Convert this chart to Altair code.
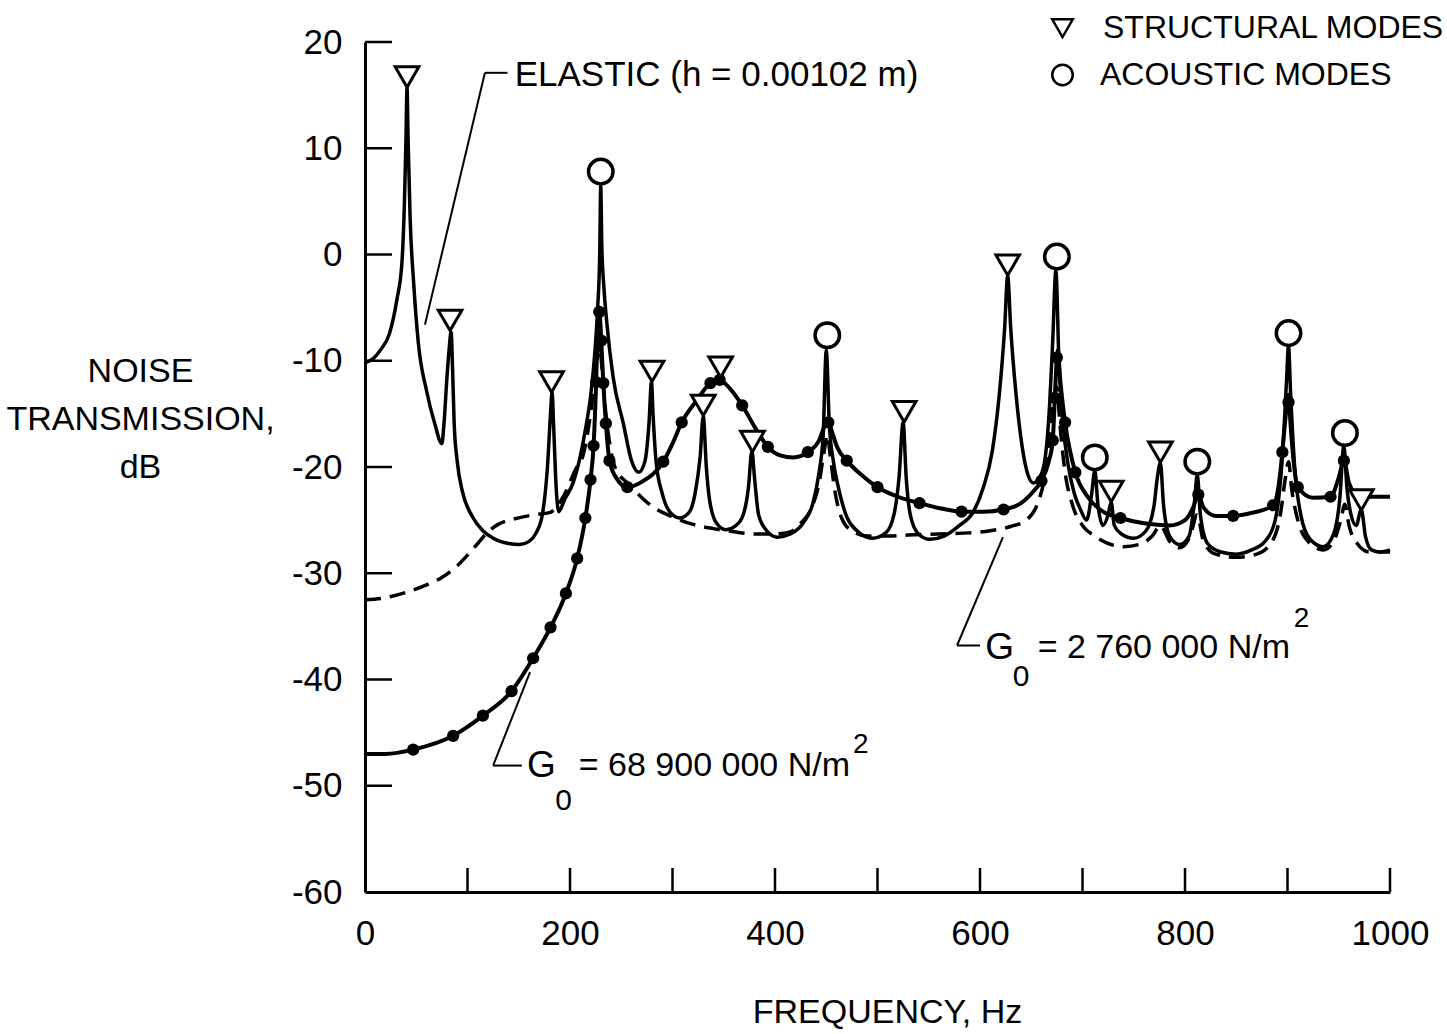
import altair as alt
import pandas as pd

FONT = "Liberation Sans, Arial, sans-serif"

# ---------------- data ----------------
# Elastic plate (h = 0.00102 m) – solid line
elastic_f = [0, 8, 15, 24, 31, 36, 38.5, 40, 41, 42, 44, 47.5, 52, 60, 68, 75, 77, 80, 82, 84,
             85.5, 87, 90, 95, 105, 115, 125, 140, 151, 160, 167, 173, 178, 181, 182.5, 184, 186, 189,
             195, 203, 210, 215, 220, 224, 227, 229, 230, 231, 233, 236, 242, 252, 260, 267, 273, 277,
             279.5, 281, 284, 290, 298, 307, 316, 322, 327, 330, 333, 336, 343, 352, 362, 369, 374,
             377.5, 380, 384, 392, 402, 415, 428, 437, 443, 447, 450, 453, 457, 462, 470, 480, 495,
             508, 516, 521, 525, 528, 532, 540, 551, 565, 580, 593, 603, 612, 619, 624, 627, 630, 635,
             641, 647, 652, 658, 663, 668, 671, 674, 677, 681, 686, 692, 698, 704, 709, 712, 715, 720,
             725, 728, 731, 738, 750, 762, 770, 773, 776, 779, 785, 795, 804, 809, 812, 815, 822, 835,
             850, 865, 878, 888, 895, 899, 901, 903, 907, 913, 922, 935, 945, 951, 955, 958, 962, 967,
             972, 976, 982, 990, 1000]
elastic_db = [-10.2, -9.8, -9.0, -7.4, -4.3, -0.8, 5, 11, 15.7, 11, 3.5, -2.7, -8.3, -12.8, -15.9, -17.8, -16, -11.5, -9, -7.3,
              -11, -15.9, -19.5, -22.3, -24.7, -26, -26.7, -27.2, -27.3, -27, -26.2, -24.5, -20, -15, -13, -16, -21, -24.2,
              -23, -21.5, -19, -16.5, -13.4, -9.5, -5, 0, 6.5, 1, -3, -6.5, -11.5, -15.9, -19.4, -20.5, -19.5, -16,
              -12, -15, -19.5, -22.5, -24.3, -24.8, -24.3, -22.5, -19, -15.2, -20, -23, -25.3, -25.9, -25.5, -24.5, -22,
              -18.5, -21, -24.5, -26, -26.6, -26.3, -25.2, -23.4, -20.5, -17, -9, -16, -19.5, -22, -24.7, -26, -26.7,
              -26.2, -24.5, -21, -15.8, -21, -24.5, -26.3, -26.8, -26.5, -25.5, -24.3, -22, -18.5, -13, -7, -2, -7, -13,
              -18, -20.8, -21.5, -21, -19.5, -14, -8, -1.5, -10, -16, -19.8, -22.5, -24, -25, -22.5, -20.3, -23.5, -25.5,
              -24.5, -23.3, -25.5, -26.3, -26.7, -26, -23.5, -21, -19.6, -23.5, -26.5, -27.3, -26.5, -23.5, -20.7, -24.5, -27.2, -28,
              -28.2, -27.8, -27, -25, -19, -12, -8.6, -13, -20, -24.5, -26.8, -27.5, -26.3, -23, -18, -22, -24.5, -25.5,
              -24, -26.5, -27.8, -28, -27.8]

# G0 = 2 760 000 N/m^2 – dashed line
soft_f = [0, 20, 40, 60, 75, 90, 100, 110, 120, 130, 145, 165, 180, 195, 205, 213, 220, 225, 229, 231,
          235, 240, 245, 255, 265, 280, 300, 320, 340, 360, 380, 400, 415, 425, 435, 443, 448, 451, 454,
          458, 465, 475, 490, 510, 530, 560, 590, 610, 630, 645, 655, 663, 668, 672, 675, 678, 683, 690,
          700, 712, 725, 740, 755, 768, 776, 785, 795, 805, 812, 818, 830, 850, 870, 885, 893, 898, 901,
          904, 910, 920, 935, 945, 952, 956, 960, 968, 980, 1000]
soft_db = [-32.5, -32.3, -31.8, -31.1, -30.4, -29.3, -28.3, -27.2, -26.1, -25.4, -24.9, -24.5, -24.3, -22.5, -20.3, -18.8, -15, -11, -8.5, -10.5,
           -15, -18.5, -20.3, -21.4, -22.4, -23.7, -24.7, -25.4, -25.8, -26.1, -26.3, -26.3, -26.1, -25.3, -24, -21.5, -18.5, -17, -19,
           -22, -24.8, -26, -26.5, -26.5, -26.4, -26.3, -26.2, -26, -25.6, -25, -23.7, -21, -17.5, -13.5, -12.5, -16, -20.5, -23.5,
           -25.5, -26.5, -27.2, -27.5, -27.3, -26.5, -25.5, -27, -27.6, -26.5, -24.5, -27, -28.2, -28.5, -28.2, -27, -24.5, -21, -19.5,
           -22, -25, -27, -27.8, -27, -25, -23.5, -25.5, -27.2, -28, -28]

# G0 = 68 900 000 N/m^2 – solid line with dots
stiff_f = [0, 20, 47, 86, 115, 143, 164, 181, 196, 207, 215, 220, 223, 225.5, 227, 228.5, 230.5, 232.5, 235, 238.5,
           245, 256, 270, 291, 300, 309, 323, 337, 346, 355, 368, 380, 393, 405, 418, 432, 443, 449, 452, 455,
           461, 470, 485, 500, 520, 541, 562, 582, 603, 623, 640, 652, 660, 667, 671, 673, 675, 676, 678, 683,
           693, 705, 720, 737, 760, 785, 800, 808, 813, 818, 830, 847, 866, 886, 893, 896, 899, 901, 903, 906,
           910, 925, 942, 950, 955, 960, 970, 985, 1000]
stiff_db = [-47, -47, -46.6, -45.3, -43.4, -41.1, -38.0, -35.1, -31.9, -28.6, -24.8, -21.2, -18, -12, -7, -5.2, -8.1, -12.1, -15.9, -19.4,
            -21, -21.9, -21.4, -19.5, -17.8, -15.8, -13.8, -12.1, -11.8, -12.5, -14.2, -16.2, -18.1, -18.9, -19.1, -18.6, -17.5, -16, -15.5, -16.5,
            -18.2, -19.4, -20.8, -21.9, -22.8, -23.4, -23.9, -24.2, -24.2, -24.0, -23.4, -22.3, -21.3, -19.5, -17.5, -13.5, -9.7, -9, -11.5, -15.8,
            -20.5, -22.8, -24.2, -24.8, -25.3, -25.5, -25, -23.8, -22.6, -23.8, -24.6, -24.6, -24.3, -23.6, -20.5, -17.5, -14.5, -13.2, -16, -19.5,
            -21.9, -22.9, -22.8, -21, -19.4, -21.5, -22.8, -22.8, -22.8]

# plotted (measured) points on the stiff-core curve
dot_f = [47, 86, 115, 143, 164, 181, 196, 207, 215, 220, 223, 225.5, 228.5, 230.5, 232.5, 235, 238.5, 256,
         291, 309, 337, 346, 368, 393, 432, 452, 470, 500, 541, 582, 623, 660, 671, 673, 675, 683, 693, 737,
         813, 847, 886, 895, 901, 910, 942, 955]
dot_db = [-46.6, -45.3, -43.4, -41.1, -38.0, -35.1, -31.9, -28.6, -24.8, -21.2, -18, -12, -5.4, -8.1, -12.1, -15.9, -19.4, -21.9,
          -19.5, -15.8, -12.1, -11.8, -14.2, -18.1, -18.6, -15.8, -19.4, -21.9, -23.4, -24.2, -24.0, -21.3, -17.5, -13.5, -9.7, -15.8, -20.5, -24.8,
          -22.6, -24.6, -23.6, -18.6, -13.9, -21.9, -22.8, -19.4]

# mode markers
struct_f = [41, 83, 182, 280, 330, 347, 378, 526, 627, 728, 776, 972]
struct_db = [16.7, -6.2, -12, -11.0, -14.2, -10.6, -17.6, -14.8, -1.0, -22.3, -18.6, -23.1]
acoustic_f = [230, 451, 675, 712, 812, 901, 956]
acoustic_db = [7.8, -7.6, -0.2, -19.1, -19.5, -7.4, -16.8]

# axis ticks
x_tick_values = [100, 200, 300, 400, 500, 600, 700, 800, 900, 1000]
x_label_values = [0, 200, 400, 600, 800, 1000]
y_tick_values = [-50, -40, -30, -20, -10, 0, 10, 20]
y_label_values = [-60, -50, -40, -30, -20, -10, 0, 10, 20]

# leader lines (start f, start dB, end f, end dB)
leader_f = [117, 117, 125, 125, 577.6, 577.6]
leader_db = [17.1, 17.1, -48.1, -48.1, -36.8, -36.8]
leader_f2 = [139, 58.5, 153, 161, 600, 622.4]
leader_db2 = [17.1, -6.6, -48.1, -39.3, -36.8, -26.6]

# annotation texts
elastic_label = ["ELASTIC  (h = 0.00102 m)"]
elastic_label_f = [146]
elastic_label_db = [16.9]
g_text = ["G", "G"]
g_text_f = [158, 605]
g_text_db = [-48.1, -37.0]
eq_text = ["= 68 900 000 N/m", "= 2 760 000 N/m"]
eq_text_f = [473.2, 902.4]          # right end of each text
eq_text_db = [-48.1, -37.0]
sub_text = ["0", "0"]
sub_text_f = [185.5, 632]
sub_text_db = [-51.4, -39.8]
sup_text = ["2", "2"]
sup_text_f = [476, 906]
sup_text_db = [-46.2, -34.3]

legend_labels = ["STRUCTURAL MODES", "ACOUSTIC MODES"]
legend_f = [720, 717]
legend_db = [21.3, 16.9]
legend_sym_f = [680.5, 680.5]
legend_sym_db = [21.3, 16.9]

# ---------------- frames ----------------
df_el = pd.DataFrame({"f": elastic_f, "db": elastic_db})
df_soft = pd.DataFrame({"f": soft_f, "db": soft_db})
df_stiff = pd.DataFrame({"f": stiff_f, "db": stiff_db})
df_dot = pd.DataFrame({"f": dot_f, "db": dot_db})
df_struct = pd.DataFrame({"f": struct_f, "db": struct_db})
df_ac = pd.DataFrame({"f": acoustic_f, "db": acoustic_db})
df_xt = pd.DataFrame({"f": x_tick_values})
df_yt = pd.DataFrame({"db": y_tick_values})
df_lead = pd.DataFrame({"f": leader_f, "db": leader_db, "f2": leader_f2, "db2": leader_db2})
df_el_lab = pd.DataFrame({"f": elastic_label_f, "db": elastic_label_db, "t": elastic_label})
df_g = pd.DataFrame({"f": g_text_f, "db": g_text_db, "t": g_text})
df_eq = pd.DataFrame({"f": eq_text_f, "db": eq_text_db, "t": eq_text})
df_sub = pd.DataFrame({"f": sub_text_f, "db": sub_text_db, "t": sub_text})
df_sup = pd.DataFrame({"f": sup_text_f, "db": sup_text_db, "t": sup_text})
df_leg = pd.DataFrame({"f": legend_f, "db": legend_db, "t": legend_labels})
df_leg_tri = pd.DataFrame({"f": legend_sym_f[:1], "db": legend_sym_db[:1]})
df_leg_cir = pd.DataFrame({"f": legend_sym_f[1:], "db": legend_sym_db[1:]})

xscale = alt.Scale(domain=[0, 1000], nice=False, zero=False)
yscale = alt.Scale(domain=[-60, 20], nice=False, zero=False)

X = alt.X("f:Q", scale=xscale, axis=alt.Axis(
    values=x_label_values, ticks=False, tickSize=0, grid=False, domainColor="black", domainWidth=3,
    labelFont=FONT, labelFontSize=35, labelColor="black", labelPadding=24, labelFlush=False,
    labelOverlap=False, labelExpr="'' + datum.value", title="FREQUENCY,  Hz", titleFont=FONT,
    titleFontSize=34, titleFontWeight="normal", titleColor="black", titleX=522, titleY=120,
    titleAlign="center", titleBaseline="middle"))
Y = alt.Y("db:Q", scale=yscale, axis=alt.Axis(
    values=y_label_values, ticks=False, tickSize=0, grid=False, domainColor="black", domainWidth=3,
    labelFont=FONT, labelFontSize=35, labelColor="black", labelPadding=23, labelFlush=False,
    labelOverlap=False, labelExpr="'' + datum.value",
    title=["NOISE", "TRANSMISSION,", "dB"], titleFont=FONT, titleFontSize=34, titleFontWeight="normal",
    titleColor="black", titleAngle=0, titleX=-225, titleY=312, titleAlign="center",
    titleBaseline="top", titleLineHeight=48))

elastic = alt.Chart(df_el).mark_line(interpolate="monotone", color="black", strokeWidth=3.5).encode(x=X, y=Y)
soft = alt.Chart(df_soft).mark_line(interpolate="monotone", color="black", strokeWidth=3.5,
                                    strokeDash=[16, 9]).encode(x=X, y=Y)
stiff = alt.Chart(df_stiff).mark_line(interpolate="monotone", color="black", strokeWidth=4).encode(x=X, y=Y)
dots = alt.Chart(df_dot).mark_circle(color="black", size=150, opacity=1).encode(x=X, y=Y)
tri = alt.Chart(df_struct).mark_point(shape="triangle-down", size=560, filled=True, fill="white",
                                      stroke="black", strokeWidth=3, opacity=1).encode(x=X, y=Y)
cir = alt.Chart(df_ac).mark_point(shape="circle", size=600, filled=True, fill="white",
                                  stroke="black", strokeWidth=3.5, opacity=1).encode(x=X, y=Y)

xt = alt.Chart(df_xt).mark_rule(color="black", strokeWidth=2.5).encode(
    x=X, y=alt.value(826), y2=alt.value(850))
yt = alt.Chart(df_yt).mark_rule(color="black", strokeWidth=2.5).encode(
    y=Y, x=alt.value(0), x2=alt.value(27))

lead = alt.Chart(df_lead).mark_rule(color="black", strokeWidth=2).encode(
    x=X, y=Y, x2="f2:Q", y2="db2:Q")

t_el = alt.Chart(df_el_lab).mark_text(font=FONT, fontSize=35, align="left", baseline="middle",
                                      color="black").encode(x=X, y=Y, text="t:N")
t_g = alt.Chart(df_g).mark_text(font=FONT, fontSize=37, align="left", baseline="middle",
                                color="black").encode(x=X, y=Y, text="t:N")
t_eq = alt.Chart(df_eq).mark_text(font=FONT, fontSize=34, align="right", baseline="middle",
                                  color="black").encode(x=X, y=Y, text="t:N")
t_sub = alt.Chart(df_sub).mark_text(font=FONT, fontSize=30, align="left", baseline="middle",
                                    color="black").encode(x=X, y=Y, text="t:N")
t_sup = alt.Chart(df_sup).mark_text(font=FONT, fontSize=28, align="left", baseline="middle",
                                    color="black").encode(x=X, y=Y, text="t:N")
t_leg = alt.Chart(df_leg).mark_text(font=FONT, fontSize=32, align="left", baseline="middle",
                                    color="black").encode(x=X, y=Y, text="t:N")
leg_tri = alt.Chart(df_leg_tri).mark_point(shape="triangle-down", size=420, filled=True, fill="white",
                                           stroke="black", strokeWidth=2.5, opacity=1).encode(x=X, y=Y)
leg_cir = alt.Chart(df_leg_cir).mark_point(shape="circle", size=420, filled=True, fill="white",
                                           stroke="black", strokeWidth=2.5, opacity=1).encode(x=X, y=Y)

chart = alt.layer(
    elastic, soft, stiff, dots, xt, yt, lead, tri, cir,
    t_el, t_g, t_eq, t_sub, t_sup, t_leg, leg_tri, leg_cir
).properties(
    width=1025, height=850,
    padding={"left": 365, "top": 42, "right": 57, "bottom": 142},
    autosize=alt.AutoSizeParams(type="none"),
    background="white",
).configure_view(stroke=None)

chart.save("out.html", embed_options={"renderer": "svg", "actions": False})
